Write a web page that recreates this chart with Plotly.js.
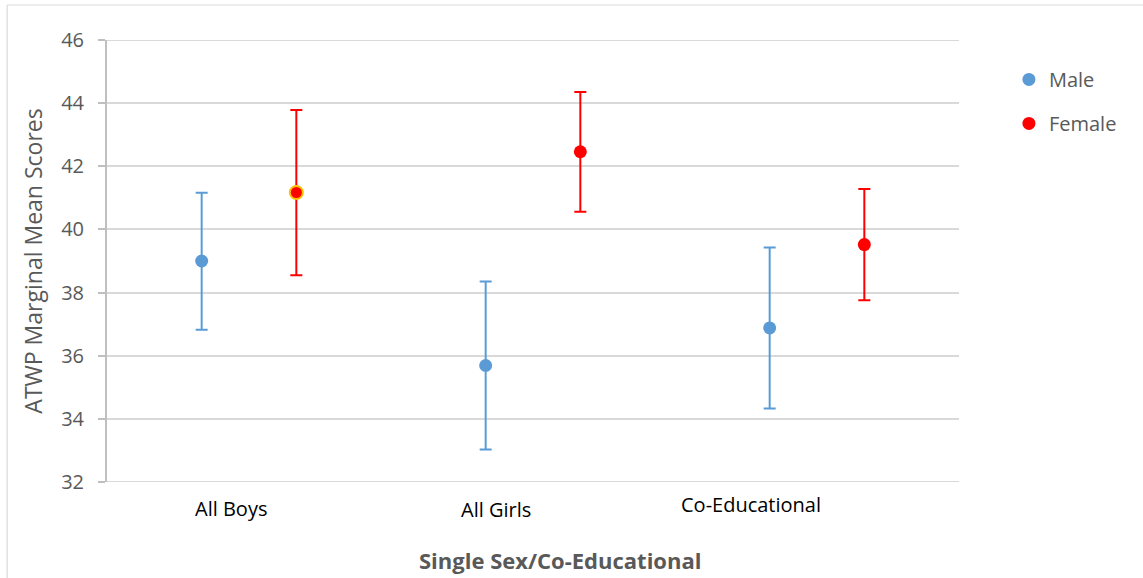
<!DOCTYPE html>
<html>
<head>
<meta charset="utf-8">
<script src="https://cdn.plot.ly/plotly-3.0.1.min.js"></script>
<style>
html,body{margin:0;padding:0;background:#fff;}
#chart{width:1143px;height:578px;}
</style>
</head>
<body>
<div id="chart"></div>
<script>
// ---- data ----
var categories = ['All Boys', 'All Girls', 'Co-Educational'];
var maleX = [1, 4, 7];
var femaleX = [2, 5, 8];
var labelX = [1.31, 4.11, 6.80];
var labelYOffset = [-0.059, -0.063, -0.052];

var maleMean = [39.00, 35.69, 36.88];
var maleUpper = [41.16, 38.35, 39.43];
var maleLower = [36.82, 33.03, 34.33];

var femaleMean = [41.17, 42.46, 39.52];
var femaleUpper = [43.78, 44.35, 41.28];
var femaleLower = [38.55, 40.56, 37.76];

var highlightIndex = [0]; // female point drawn with an orange outline

var yTicks = [32, 34, 36, 38, 40, 42, 44, 46];

function diff(a, b) { return a.map(function (v, i) { return +(v - b[i]).toFixed(3); }); }

var FONT = 'Open Sans, sans-serif';
var GREY = '#595959';

var traces = [
  {
    name: 'Male', type: 'scatter', mode: 'markers', legendgroup: 'm',
    x: maleX, y: maleMean,
    marker: { color: '#5b9bd5', size: 13 },
    error_y: { type: 'data', symmetric: false, array: diff(maleUpper, maleMean), arrayminus: diff(maleMean, maleLower),
               color: '#5b9bd5', thickness: 2, width: 6 },
    hoverinfo: 'y'
  },
  {
    name: 'Female', type: 'scatter', mode: 'markers', legendgroup: 'f',
    x: femaleX, y: femaleMean,
    marker: { color: '#ff0000', size: 13 },
    error_y: { type: 'data', symmetric: false, array: diff(femaleUpper, femaleMean), arrayminus: diff(femaleMean, femaleLower),
               color: '#ff0000', thickness: 2, width: 6 },
    hoverinfo: 'y'
  },
  {
    name: 'Female', type: 'scatter', mode: 'markers', legendgroup: 'f', showlegend: false,
    x: highlightIndex.map(function (i) { return femaleX[i]; }),
    y: highlightIndex.map(function (i) { return femaleMean[i]; }),
    marker: { color: '#ff0000', size: 13, line: { color: '#ffc000', width: 2 } },
    hoverinfo: 'y'
  }
];

var annotations = categories.map(function (c, i) {
  return { text: c, x: labelX[i], xref: 'x', y: labelYOffset[i], yref: 'paper',
           xanchor: 'center', yanchor: 'middle', showarrow: false,
           font: { family: FONT, size: 20, color: '#000000' } };
});
annotations.push({
  text: '<b>Single Sex/Co-Educational</b>', x: 0.532, xref: 'paper', y: -0.176, yref: 'paper',
  xanchor: 'center', yanchor: 'middle', showarrow: false,
  font: { family: FONT, size: 22, color: GREY }
});

var yMin = yTicks[0], yMax = yTicks[yTicks.length - 1];

var layout = {
  width: 1143, height: 578,
  margin: { l: 107, r: 184, t: 40, b: 96 },
  paper_bgcolor: '#ffffff', plot_bgcolor: '#ffffff',
  font: { family: FONT, color: GREY },
  showlegend: true,
  legend: { x: 1.0586, y: 0.955, xanchor: 'left', yanchor: 'top',
            font: { family: FONT, size: 20, color: GREY }, tracegroupgap: 15,
            bgcolor: 'rgba(0,0,0,0)' },
  xaxis: { range: [0, 9], showgrid: false, zeroline: false, showticklabels: false,
           showline: false, ticks: '', fixedrange: true },
  yaxis: { range: [yMin, yMax], tickvals: yTicks, showgrid: true, gridcolor: '#d9d9d9', gridwidth: 2,
           zeroline: false, showline: true, linecolor: '#bfbfbf', linewidth: 2,
           ticks: 'outside', ticklen: 7, tickcolor: '#bfbfbf', tickwidth: 2, ticklabelstandoff: 10,
           tickfont: { family: FONT, size: 20, color: GREY },
           title: { text: 'ATWP Marginal Mean Scores', standoff: 12, font: { family: FONT, size: 23, color: GREY } } },
  annotations: annotations,
  shapes: [
    { type: 'line', layer: 'below', xref: 'paper', yref: 'y', x0: 0, x1: 1, y0: yMin, y1: yMin,
      line: { color: '#d9d9d9', width: 2 } },
    { type: 'line', layer: 'below', xref: 'paper', yref: 'y', x0: 0, x1: 1, y0: yMax, y1: yMax,
      line: { color: '#d9d9d9', width: 2 } },
    { type: 'line', xref: 'paper', yref: 'paper', x0: -0.1172, x1: 1.3, y0: 1.0792, y1: 1.0792,
      line: { color: '#d9d9d9', width: 1.2 } },
    { type: 'line', xref: 'paper', yref: 'paper', x0: -0.1172, x1: -0.1172, y0: 1.0792, y1: -0.3,
      line: { color: '#d9d9d9', width: 1.2 } }
  ]
};

Plotly.newPlot('chart', traces, layout, { displayModeBar: false, staticPlot: true });
</script>
</body>
</html>
